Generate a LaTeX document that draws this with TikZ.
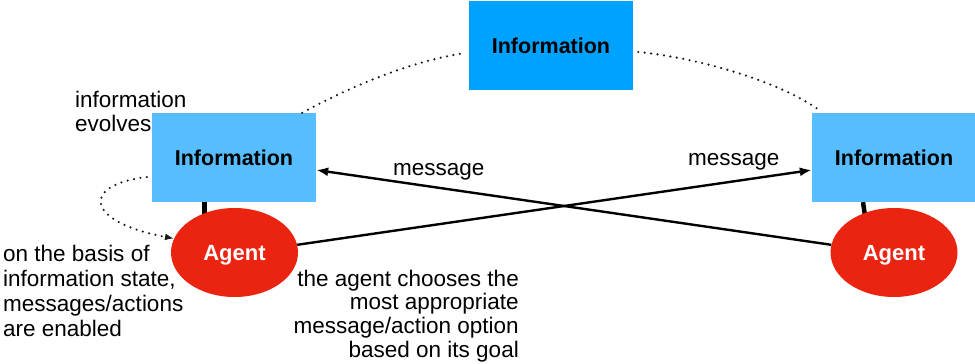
\documentclass[tikz,border=0pt]{standalone}
\usepackage{fontspec}
\setmainfont{Liberation Sans}
\usetikzlibrary{arrows.meta,backgrounds,shapes.geometric}
\definecolor{infotop}{HTML}{00A2FF}
\definecolor{infoside}{HTML}{56BEFF}
\definecolor{agentred}{HTML}{EB2311}
\begin{document}
\begin{tikzpicture}[x=1pt,y=-1pt,
  infobox/.style={rectangle, minimum width=164pt, minimum height=89pt, inner sep=0pt,
    font=\fontsize{21.5}{24}\selectfont\bfseries},
  agent/.style={ellipse, fill=agentred, minimum width=127pt, minimum height=89pt, inner sep=0pt,
    text=white, text depth=0pt, font=\fontsize{22}{24}\selectfont\bfseries},
  note/.style={inner sep=0pt, font=\fontsize{22.5}{24.5}\selectfont},
  msg/.style={line width=2.4pt, -{Latex[length=12pt,width=9pt]}},
  evolve/.style={line width=2.4pt, dash pattern=on 0pt off 6.5pt, line cap=round, draw=black!90},
  link/.style={line width=4.5pt}
]
\useasboundingbox (0,0) rectangle (975,364);

% information states and agents
\node[infobox, fill=infotop]  (tb) at (551,45.5)  {Information};
\node[infobox, fill=infoside] (lb) at (234,157.5) {Information};
\node[infobox, fill=infoside] (rb) at (894,157.5) {Information};
\node[agent] (la) at (234.5,252.5) {Agent};
\node[agent] (ra) at (894,252.5)   {Agent};

% each agent is attached to its own information state
\begin{scope}[on background layer]
  \draw[link] ([xshift=-29.5pt]lb.south) -- ++(0,20);
  \draw[link] ([xshift=-31pt]rb.south) -- ++(3,20);
\end{scope}

% messages exchanged between the agents
\draw[msg] (la.7) -- ([yshift=-12.5pt]rb.west);
\draw[msg] (ra.173) -- ([yshift=-12.5pt]lb.east);
\node[note, anchor=base west] (m1) at (393,175) {message};
\node[note, anchor=base west] (m2) at (688,165) {message};

% evolution of the information
\draw[evolve] ([xshift=-14pt]lb.north east) .. controls (335,95) and (400,63) .. ([xshift=-4pt,yshift=-7.5pt]tb.west);
\draw[evolve] ([xshift=5pt,yshift=-6.5pt]tb.east) .. controls (700,58) and (780,82) .. ([xshift=7pt,yshift=3pt]rb.north west);
\draw[evolve, -{Latex[length=9pt,width=7pt]}] ([xshift=-5pt,yshift=-19.5pt]lb.west) .. controls (80,185) and (85,222) .. (la.167);

% explanations
\node[note, anchor=north west, align=left, font=\fontsize{22.5}{24}\selectfont] (evo) at (75,90.6) {information\\evolves};
\node[note, anchor=north west, align=left, font=\fontsize{22.5}{25}\selectfont] (basis) at (3,244.6)
  {on the basis of\\information state,\\messages/actions\\are enabled};
\node[note, anchor=north east, align=right, font=\fontsize{22.5}{23.7}\selectfont] (choose) at (519,269.6)
  {the agent chooses the\\most appropriate\\message/action option\\based on its goal};
\end{tikzpicture}
\end{document}
